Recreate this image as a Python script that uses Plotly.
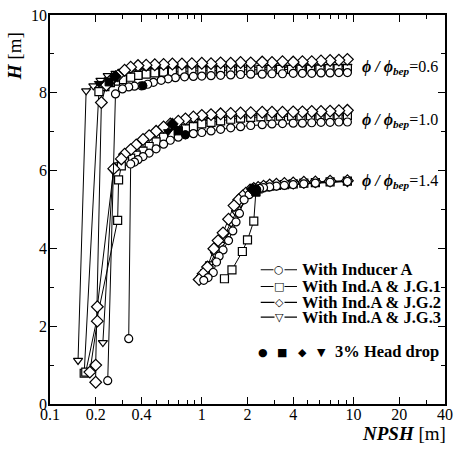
import math
import plotly.graph_objects as go

# ---------------- data ----------------
# phi/phi_bep = 0.6
A06_x = [9.1, 8.0, 7.0, 6.1, 5.3, 4.6, 4.0, 3.4, 2.9, 2.5, 2.1, 1.8, 1.55, 1.33, 1.15, 1.0, 0.88, 0.77, 0.67, 0.6, 0.54, 0.48, 0.44, 0.4, 0.36, 0.33, 0.3, 0.27, 0.24]
A06_y = [8.52, 8.52, 8.51, 8.51, 8.5, 8.5, 8.5, 8.49, 8.49, 8.48, 8.48, 8.47, 8.46, 8.45, 8.44, 8.43, 8.42, 8.41, 8.39, 8.36, 8.32, 8.27, 8.22, 8.18, 8.17, 8.15, 8.1, 7.97, 0.6]
S06_x = [9.1, 7.9, 6.9, 6.0, 5.2, 4.5, 3.9, 3.3, 2.85, 2.45, 2.1, 1.8, 1.55, 1.33, 1.15, 1.0, 0.86, 0.74, 0.64, 0.56, 0.49, 0.43, 0.38, 0.34, 0.3, 0.27, 0.25, 0.23, 0.21, 0.168]
S06_y = [8.62, 8.62, 8.62, 8.61, 8.61, 8.61, 8.6, 8.6, 8.6, 8.6, 8.59, 8.59, 8.58, 8.58, 8.57, 8.57, 8.56, 8.55, 8.54, 8.53, 8.51, 8.48, 8.45, 8.4, 8.34, 8.3, 8.26, 8.16, 8.03, 0.79]
D06_x = [9.1, 8.0, 7.0, 6.1, 5.3, 4.6, 4.0, 3.4, 2.9, 2.5, 2.1, 1.8, 1.55, 1.33, 1.15, 1.0, 0.86, 0.74, 0.64, 0.56, 0.49, 0.43, 0.38, 0.34, 0.31, 0.28, 0.255, 0.235, 0.218, 0.2, 0.2]
D06_y = [8.86, 8.84, 8.83, 8.82, 8.8, 8.8, 8.79, 8.8, 8.78, 8.79, 8.77, 8.78, 8.76, 8.77, 8.75, 8.76, 8.75, 8.74, 8.74, 8.73, 8.72, 8.71, 8.7, 8.66, 8.58, 8.44, 8.35, 8.2, 7.75, 1.0, 0.56]
T06_x = [9.1, 8.0, 7.0, 6.1, 5.3, 4.6, 4.0, 3.4, 2.9, 2.5, 2.1, 1.8, 1.55, 1.33, 1.15, 1.0, 0.86, 0.74, 0.64, 0.56, 0.49, 0.43, 0.38, 0.34, 0.3, 0.27, 0.24, 0.215, 0.193, 0.173, 0.153]
T06_y = [8.68, 8.68, 8.67, 8.67, 8.67, 8.66, 8.66, 8.66, 8.66, 8.65, 8.65, 8.65, 8.65, 8.64, 8.64, 8.64, 8.64, 8.63, 8.63, 8.63, 8.62, 8.62, 8.6, 8.58, 8.55, 8.5, 8.44, 8.32, 8.18, 8.05, 1.12]

# phi/phi_bep = 1.0
A10_x = [9.1, 8.0, 7.0, 6.1, 5.3, 4.6, 4.0, 3.4, 2.9, 2.5, 2.1, 1.8, 1.55, 1.33, 1.15, 1.0, 0.88, 0.78, 0.7, 0.62, 0.56, 0.5, 0.45, 0.41, 0.38, 0.36, 0.34, 0.33]
A10_y = [7.25, 7.25, 7.24, 7.24, 7.23, 7.22, 7.22, 7.21, 7.2, 7.18, 7.16, 7.13, 7.1, 7.06, 7.02, 6.98, 6.95, 6.92, 6.86, 6.78, 6.68, 6.56, 6.45, 6.36, 6.28, 6.22, 6.17, 1.68]
S10_x = [9.1, 7.9, 6.9, 6.0, 5.2, 4.5, 3.9, 3.3, 2.85, 2.45, 2.1, 1.8, 1.55, 1.33, 1.15, 1.0, 0.88, 0.78, 0.7, 0.62, 0.56, 0.5, 0.45, 0.41, 0.37, 0.34, 0.31, 0.295, 0.283, 0.279, 0.172]
S10_y = [7.42, 7.42, 7.41, 7.41, 7.41, 7.4, 7.4, 7.4, 7.39, 7.38, 7.37, 7.35, 7.32, 7.28, 7.24, 7.2, 7.13, 7.07, 7.02, 6.95, 6.86, 6.74, 6.62, 6.5, 6.4, 6.32, 6.24, 6.12, 5.76, 4.72, 0.82]
D10_x = [9.1, 8.0, 7.0, 6.1, 5.3, 4.6, 4.0, 3.4, 2.9, 2.5, 2.1, 1.8, 1.55, 1.33, 1.15, 1.0, 0.88, 0.78, 0.7, 0.62, 0.56, 0.5, 0.45, 0.41, 0.37, 0.34, 0.31, 0.295, 0.263, 0.205, 0.205, 0.183]
D10_y = [7.55, 7.54, 7.53, 7.52, 7.52, 7.51, 7.51, 7.5, 7.5, 7.5, 7.49, 7.48, 7.47, 7.46, 7.44, 7.42, 7.38, 7.33, 7.27, 7.2, 7.12, 7.01, 6.9, 6.8, 6.66, 6.54, 6.42, 6.3, 6.05, 2.5, 2.13, 0.82]
T10_x = [9.1, 7.9, 6.9, 6.0, 5.2, 4.5, 3.9, 3.3, 2.85, 2.45, 2.1, 1.8, 1.55, 1.33, 1.15, 1.0, 0.88, 0.78, 0.7, 0.62, 0.56, 0.5, 0.45, 0.41, 0.37, 0.34, 0.31, 0.285, 0.26, 0.223]
T10_y = [7.46, 7.46, 7.45, 7.45, 7.45, 7.44, 7.44, 7.44, 7.43, 7.42, 7.41, 7.4, 7.38, 7.35, 7.31, 7.27, 7.2, 7.14, 7.08, 7.0, 6.9, 6.78, 6.66, 6.55, 6.44, 6.35, 6.26, 6.15, 6.0, 1.58]

# phi/phi_bep = 1.4
A14_x = [9.1, 7.0, 5.6, 4.7, 4.0, 3.5, 3.1, 2.8, 2.55, 2.4, 2.3, 2.2, 2.05, 1.9, 1.77, 1.68, 1.6, 1.5, 1.38, 1.3, 1.25, 1.19, 1.1, 1.03]
A14_y = [5.72, 5.7, 5.68, 5.66, 5.64, 5.62, 5.6, 5.58, 5.56, 5.54, 5.51, 5.48, 5.38, 5.25, 4.9, 4.68, 4.45, 4.2, 3.96, 3.8, 3.65, 3.38, 3.25, 3.18]
S14_x = [9.1, 7.0, 5.6, 4.7, 4.0, 3.5, 3.1, 2.8, 2.6, 2.45, 2.35, 2.27, 2.2, 2.0, 1.85, 1.58, 1.41]
S14_y = [5.73, 5.71, 5.69, 5.68, 5.66, 5.64, 5.62, 5.6, 5.58, 5.56, 5.53, 5.45, 4.7, 4.22, 3.92, 3.45, 3.22]
D14_x = [9.1, 7.0, 5.6, 4.7, 4.0, 3.5, 3.1, 2.8, 2.55, 2.35, 2.2, 2.08, 1.95, 1.86, 1.75, 1.63, 1.5, 1.38, 1.28, 1.2, 1.09, 1.02, 0.96]
D14_y = [5.74, 5.73, 5.71, 5.7, 5.68, 5.67, 5.65, 5.63, 5.6, 5.57, 5.54, 5.5, 5.42, 5.35, 5.25, 5.1, 4.75, 4.4, 4.2, 3.99, 3.52, 3.35, 3.2]
T14_x = [9.1, 7.0, 5.6, 4.7, 4.0, 3.5, 3.1, 2.8, 2.55, 2.35, 2.2, 2.05, 1.92, 1.8, 1.68, 1.56, 1.45, 1.33, 1.22, 1.13, 1.05, 0.99]
T14_y = [5.73, 5.72, 5.7, 5.69, 5.67, 5.65, 5.63, 5.61, 5.58, 5.55, 5.52, 5.45, 5.33, 5.15, 4.92, 4.65, 4.4, 4.1, 3.85, 3.6, 3.4, 3.25]

# 3 % head drop points (0.6, 1.0, 1.4)
drop_A_x = [0.41, 0.78, 2.3];   drop_A_y = [8.18, 6.92, 5.5]
drop_S_x = [0.245, 0.7, 2.27];  drop_S_y = [8.28, 7.02, 5.45]
drop_D_x = [0.27, 0.64, 2.15];  drop_D_y = [8.42, 7.2, 5.52]
drop_T_x = [0.21, 0.6, 2.22];   drop_T_y = [8.24, 7.0, 5.58]

series_names = ["With Inducer A", "With Ind.A &amp; J.G.1", "With Ind.A &amp; J.G.2", "With Ind.A &amp; J.G.3"]
flow_labels = ["0.6", "1.0", "1.4"]
x_tickvals = [0.1, 0.2, 0.4, 1, 2, 4, 10, 20, 40]
x_ticktext = ["0.1", "0.2", "0.4", "1", "2", "4", "10", "20", "40"]
x_minor = [0.3, 0.5, 0.6, 0.7, 0.8, 0.9, 3, 5, 6, 7, 8, 9, 30]

# ---------------- figure ----------------
SERIF = "Liberation Serif"
symbols = ["circle", "square", "diamond", "triangle-down"]
sizes = [8, 8, 9, 8]
curves = {
    0: [(A06_x, A06_y), (A10_x, A10_y), (A14_x, A14_y)],
    1: [(S06_x, S06_y), (S10_x, S10_y), (S14_x, S14_y)],
    2: [(D06_x, D06_y), (D10_x, D10_y), (D14_x, D14_y)],
    3: [(T06_x, T06_y), (T10_x, T10_y), (T14_x, T14_y)],
}
drops = [(drop_A_x, drop_A_y), (drop_S_x, drop_S_y), (drop_D_x, drop_D_y), (drop_T_x, drop_T_y)]

fig = go.Figure()
for k in [3, 1, 2, 0]:
    for (xs, ys) in curves[k]:
        fig.add_trace(go.Scatter(
            x=xs, y=ys, mode="lines+markers", showlegend=False,
            line=dict(color="black", width=1),
            marker=dict(symbol=symbols[k], size=sizes[k], color="white",
                        line=dict(color="black", width=1.2)),
            hoverinfo="skip"))
for k, (xs, ys) in enumerate(drops):
    fig.add_trace(go.Scatter(
        x=xs, y=ys, mode="markers", showlegend=False,
        marker=dict(symbol=symbols[k], size=sizes[k], color="black",
                    line=dict(color="black", width=1)),
        hoverinfo="skip"))

L, R, T, B = 50, 7, 10, 47
W, H = 460, 451
pw, ph = W - L - R, H - T - B


def px(xp):
    return (xp - L) / pw


def py(yp):
    return (H - B - yp) / ph


ann = []
shapes = []
# flow-rate labels
for lab, yp in zip(flow_labels, [63, 117, 179]):
    ann.append(dict(xref="paper", yref="paper", x=px(366), y=py(yp), xanchor="left", yanchor="middle",
                    showarrow=False,
                    text="<b><i>ϕ / ϕ</i></b><sub><b><i>bep</i></b></sub>=" + lab,
                    font=dict(family=SERIF, size=16, color="black")))

# legend (drawn manually)
glyphs = ["○", "□", "◇", "▽"]
rows = [268, 285, 301, 316]
for g, name, yp in zip(glyphs, series_names, rows):
    shapes.append(dict(type="line", xref="paper", yref="paper", x0=px(265), x1=px(302), y0=py(yp), y1=py(yp),
                       line=dict(color="black", width=1.2)))
    ann.append(dict(xref="paper", yref="paper", x=px(284), y=py(yp), xanchor="center", yanchor="middle",
                    showarrow=False, text=g, bgcolor="white", borderpad=0,
                    font=dict(family="DejaVu Sans", size=11, color="black")))
    ann.append(dict(xref="paper", yref="paper", x=px(305), y=py(yp), xanchor="left", yanchor="middle",
                    showarrow=False, text="<b>" + name + "</b>",
                    font=dict(family=SERIF, size=16.5, color="black")))
for g, xp in zip(["●", "■", "◆", "▼"], [267, 287, 308, 327]):
    ann.append(dict(xref="paper", yref="paper", x=px(xp), y=py(352), xanchor="center", yanchor="middle",
                    showarrow=False, text=g, font=dict(family="DejaVu Sans", size=11, color="black")))
ann.append(dict(xref="paper", yref="paper", x=px(339), y=py(351), xanchor="left", yanchor="middle",
                showarrow=False, text="<b>3% Head drop</b>",
                font=dict(family=SERIF, size=16.5, color="black")))

# axis titles
ann.append(dict(xref="paper", yref="paper", x=px(14), y=py(52), xanchor="center", yanchor="middle",
                showarrow=False, textangle=-90, text="<b><i>H</i></b> [m]",
                font=dict(family=SERIF, size=19, color="black")))
ann.append(dict(xref="paper", yref="paper", x=px(456), y=py(434), xanchor="right", yanchor="middle",
                showarrow=False, text="<b><i>NPSH</i></b> [m]",
                font=dict(family=SERIF, size=19, color="black")))

axis_common = dict(showgrid=False, zeroline=False, showline=True, linecolor="black", linewidth=1.5,
                   ticks="inside", ticklen=7, tickwidth=1.2, tickcolor="black", mirror="allticks",
                   tickfont=dict(family=SERIF, size=16, color="black"))

fig.update_layout(
    width=W, height=H, margin=dict(l=L, r=R, t=T, b=B),
    paper_bgcolor="white", plot_bgcolor="white",
    showlegend=False,
    xaxis=dict(type="log", range=[-1, math.log10(40)], tickmode="array",
               tickvals=x_tickvals, ticktext=x_ticktext, ticklabelstandoff=-5,
               minor=dict(tickmode="array", tickvals=x_minor, ticks="inside", ticklen=4,
                          tickcolor="black", tickwidth=1),
               **axis_common),
    yaxis=dict(range=[0, 10], tickmode="array", tickvals=[0, 2, 4, 6, 8, 10], ticklabelstandoff=-2,
               minor=dict(tickmode="array", tickvals=[1, 3, 5, 7, 9], ticks="inside", ticklen=4,
                          tickcolor="black", tickwidth=1),
               **axis_common),
    annotations=ann, shapes=shapes,
)

fig.write_html("out.html", config={"displayModeBar": False},
               post_script="document.body.style.margin='0';document.body.style.padding='0';")
